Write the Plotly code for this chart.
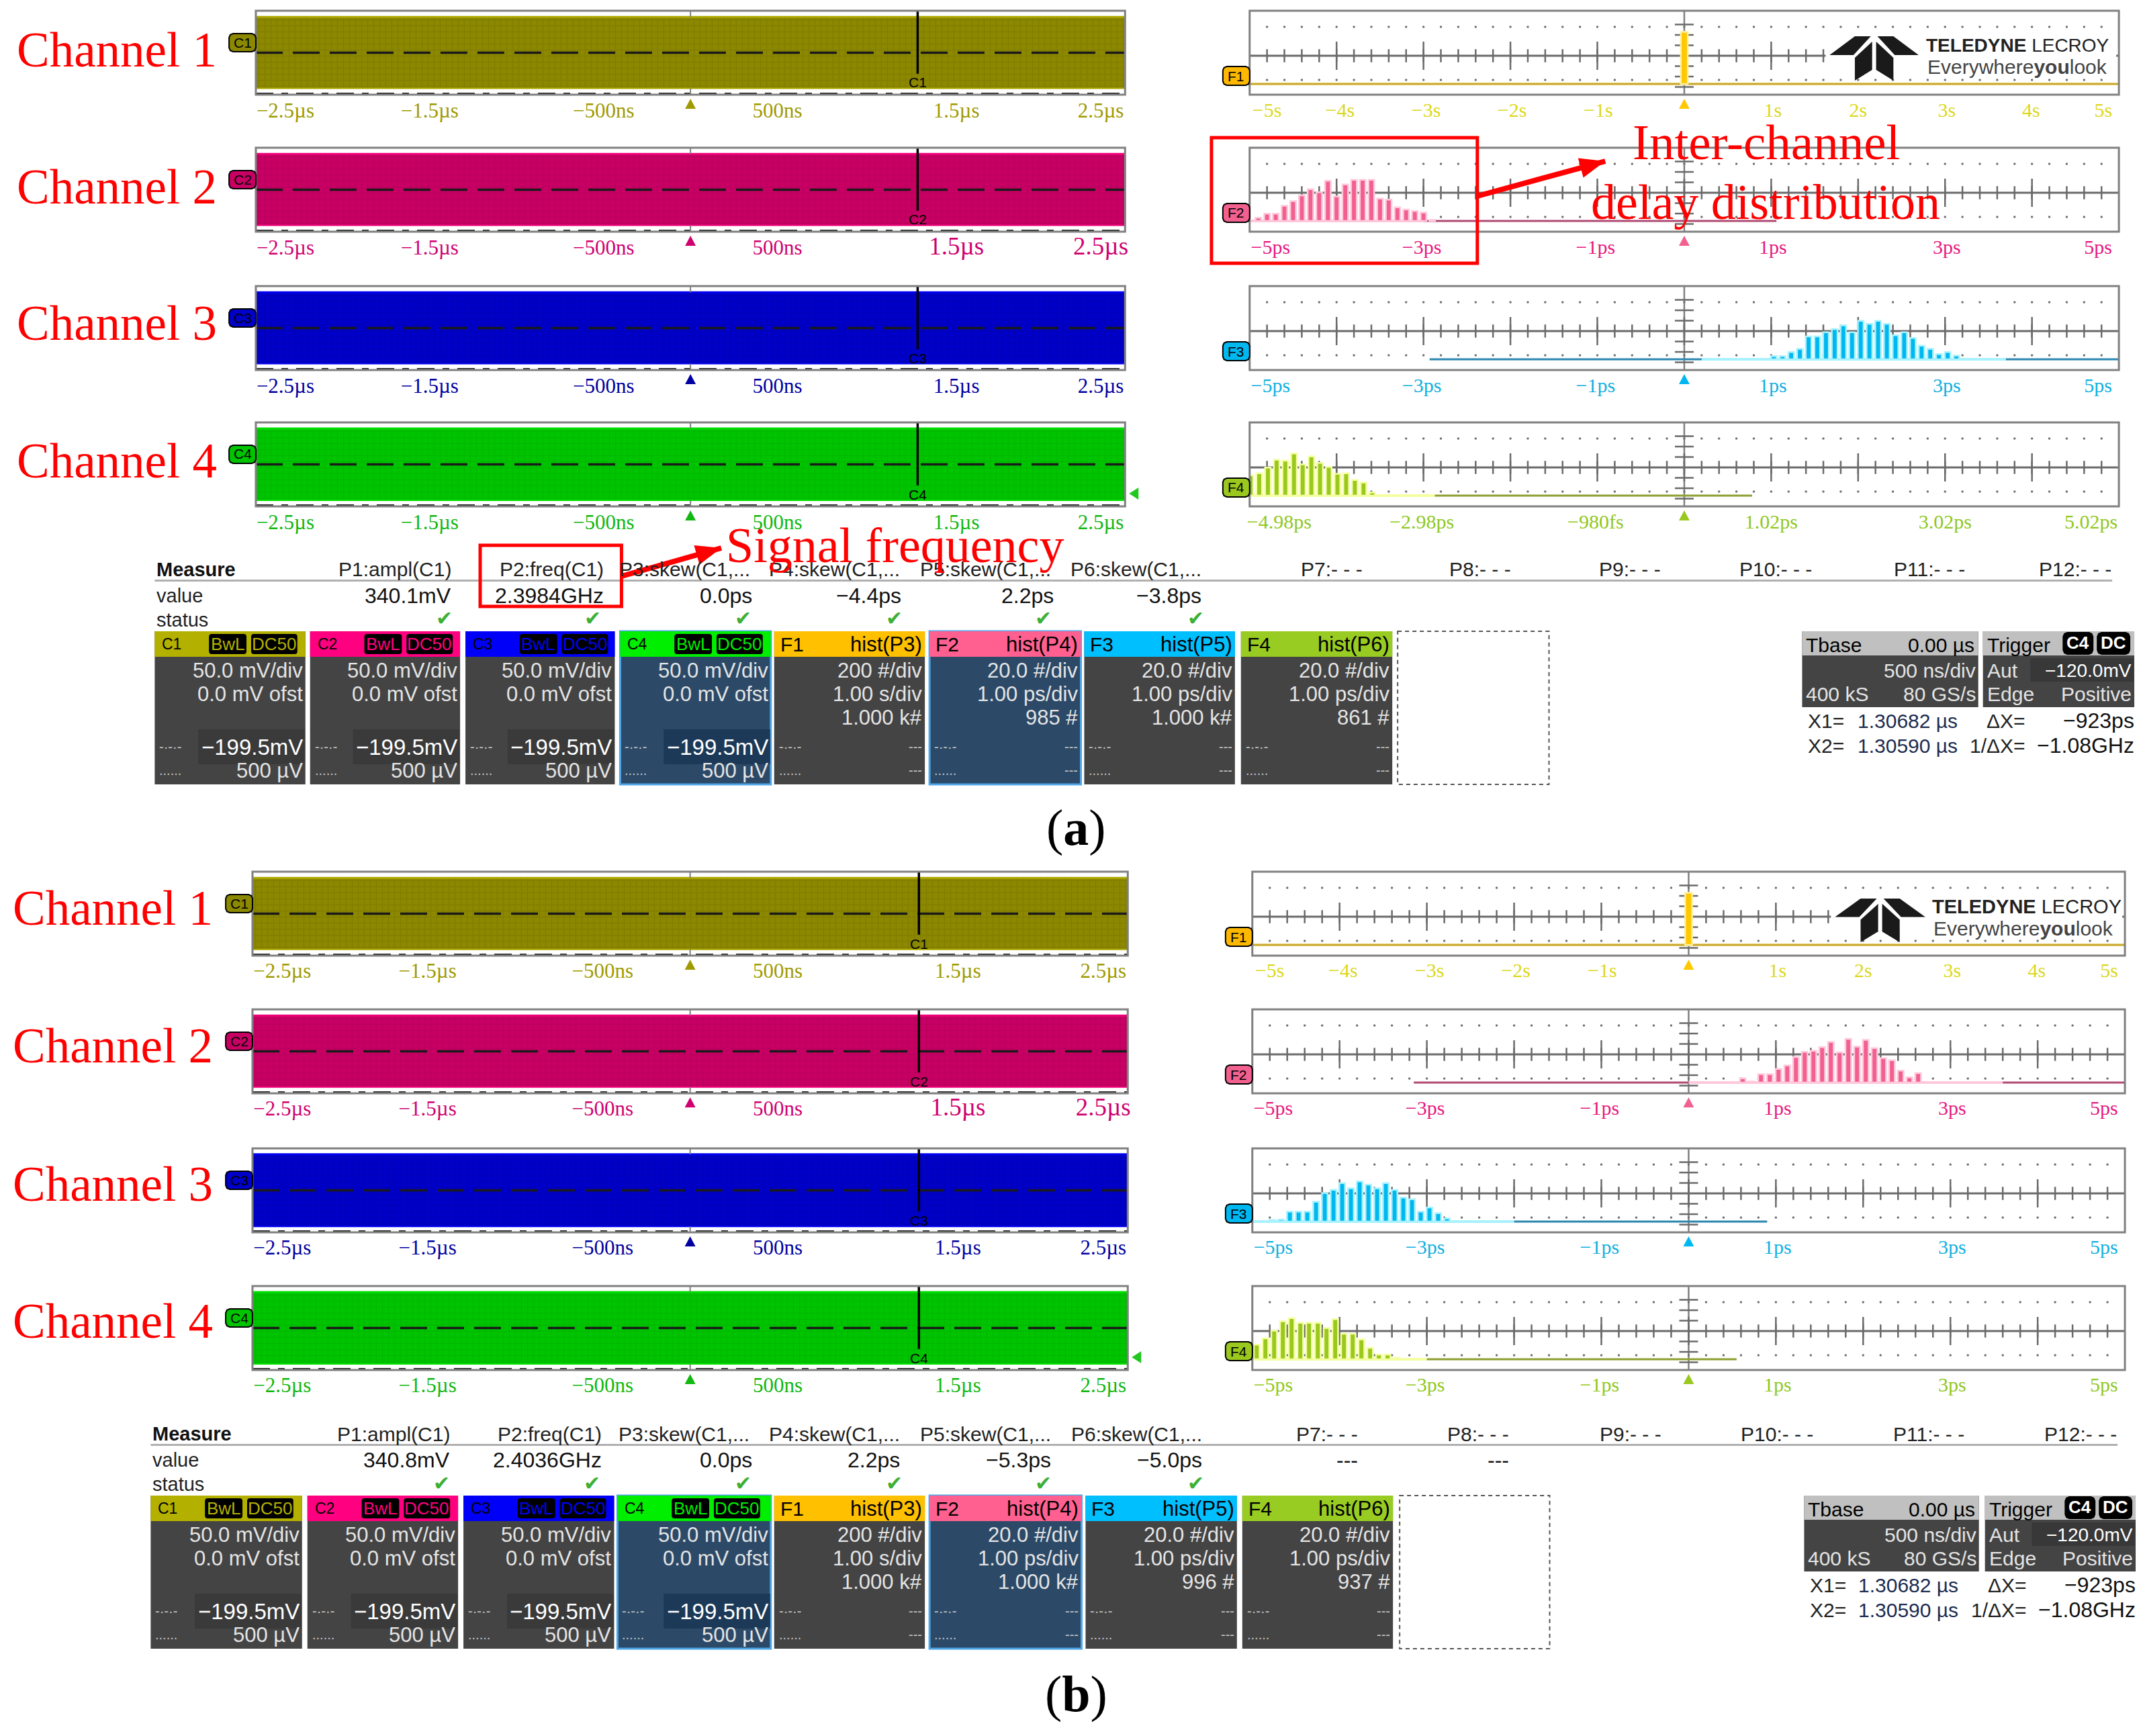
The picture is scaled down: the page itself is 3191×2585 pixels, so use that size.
import numpy as np
import plotly.graph_objects as go

W, H = 3191, 2585
PAGE_PAD = 8  # the html body keeps its default margin
SERIF = "Liberation Serif"
SANS = "Liberation Sans"

# ---- data ----
wave_names = ["C1", "C2", "C3", "C4"]
wave_colors = ["#8C8800", "#C80064", "#0000C8", "#00C400"]
wave_dark = ["#787400", "#B00058", "#0000AC", "#00AE00"]
wave_edge = ["#ACA800", "#F00078", "#0000F0", "#00E000"]
wave_label_colors = ["#A09A00", "#D00070", "#0000A0", "#10B810"]
wave_amp_a = [170.0, 170.0, 170.0, 171.0]
wave_amp_b = [170.4, 170.4, 172.0, 171.0]
wave_ticks = [-2.33, -1.5, -0.5, 0.5, 1.53, 2.36]
wave_ticktext = ["−2.5µs", "−1.5µs", "−500ns", "500ns", "1.5µs", "2.5µs"]
big = '<span style="font-size:37px">%s</span>'
wave_ticktext_c2 = ["−2.5µs", "−1.5µs", "−500ns", "500ns", big % "1.5µs", big % "2.5µs"]
cursor_x = 1.30682

f1_ticks = [-4.8, -3.96, -2.97, -1.98, -0.99, 1.02, 2.0, 3.02, 3.99, 4.82]
f1_ticktext = ["−5s", "−4s", "−3s", "−2s", "−1s", "1s", "2s", "3s", "4s", "5s"]
ps_ticks = [-4.76, -3.02, -1.02, 1.02, 3.02, 4.76]
ps_ticktext = ["−5ps", "−3ps", "−1ps", "1ps", "3ps", "5ps"]
shift_ticks = [-4.64, -3.0, -1.0, 1.02, 3.02, 4.7]
shift_ticktext = ["−4.98ps", "−2.98ps", "−980fs", "1.02ps", "3.02ps", "5.02ps"]

hist_names = ["F1", "F2", "F3", "F4"]
hist_colors = ["#FFC800", "#F2608F", "#00B8F0", "#9AC81E"]
hist_halo = ["#FFF0A0", "#FFC8DC", "#A8F2FF", "#F4FFA0"]
hist_base = ["#C8A838", "#B04A72", "#2A86AE", "#8E9E30"]
hist_text = ["#DCD820", "#E8187F", "#10B0E0", "#90C820"]

f1_x = [0.0]
f1_n = [1000]
a_f2_x = [-4.9, -4.8, -4.7, -4.6, -4.5, -4.4, -4.3, -4.2, -4.1, -4.0, -3.9, -3.8, -3.7, -3.6, -3.5, -3.4, -3.3, -3.2, -3.1, -3.0, -2.9]
a_f2_n = [6, 14, 14, 29, 38, 49, 61, 55, 77, 47, 70, 79, 79, 79, 43, 41, 26, 22, 19, 16, 2]
a_f3_x = [1.03, 1.13, 1.23, 1.33, 1.43, 1.53, 1.63, 1.73, 1.83, 1.93, 2.03, 2.13, 2.23, 2.33, 2.43, 2.53, 2.63, 2.73, 2.83, 2.93, 3.03, 3.13]
a_f3_n = [6, 6, 14, 20, 44, 44, 52, 58, 65, 52, 74, 68, 74, 68, 46, 52, 41, 26, 20, 10, 14, 7]
a_f4_x = [-4.97, -4.87, -4.77, -4.67, -4.57, -4.47, -4.37, -4.27, -4.17, -4.07, -3.97, -3.87, -3.77, -3.67, -3.57]
a_f4_n = [39, 43, 54, 69, 67, 81, 60, 75, 63, 55, 42, 43, 30, 25, 6]
b_f2_x = [0.62, 0.72, 0.83, 0.93, 1.03, 1.13, 1.23, 1.33, 1.43, 1.53, 1.63, 1.73, 1.83, 1.93, 2.03, 2.13, 2.23, 2.33, 2.43, 2.53, 2.63]
b_f2_n = [8, 2, 16, 16, 26, 33, 49, 59, 61, 68, 78, 58, 84, 69, 82, 66, 47, 43, 23, 10, 18]
b_f3_x = [-4.77, -4.67, -4.57, -4.47, -4.37, -4.27, -4.17, -4.07, -3.97, -3.87, -3.77, -3.67, -3.57, -3.47, -3.37, -3.27, -3.17, -3.07, -2.97, -2.87, -2.77]
b_f3_n = [3, 4, 19, 19, 19, 38, 55, 61, 74, 64, 77, 71, 64, 74, 61, 46, 43, 19, 27, 16, 6]
b_f4_x = [-4.95, -4.85, -4.75, -4.65, -4.55, -4.45, -4.35, -4.25, -4.15, -4.05, -3.95, -3.85, -3.75, -3.65, -3.55, -3.45, -3.35]
b_f4_n = [28, 40, 55, 73, 79, 70, 70, 70, 60, 77, 49, 49, 38, 22, 9, 9, 3]

# zero-count trace: pale where a few hits land, darker where it is empty
a_pale = [[-5, 5], [-5, -3.0], [0.2, 3.7], [-4.98, -2.85]]
a_dark = [[[-5, 5]], [[-3.0, 1.06]], [[-2.93, 0.2], [3.7, 5]], [[-2.85, 0.8]]]
b_pale = [[-5, 5], [0.0, 3.6], [-5, -2.0], [-5, -3.0]]
b_dark = [[[-5, 5]], [[-3.15, 0.0], [3.6, 5]], [[-2.0, 0.9]], [[-3.0, 0.55]]]

p_names = ["P1:ampl(C1)", "P2:freq(C1)", "P3:skew(C1,...", "P4:skew(C1,...", "P5:skew(C1,...", "P6:skew(C1,...",
           "P7:- - -", "P8:- - -", "P9:- - -", "P10:- - -", "P11:- - -", "P12:- - -"]
a_values = ["340.1mV", "2.3984GHz", "0.0ps", "−4.4ps", "2.2ps", "−3.8ps"]
b_values = ["340.8mV", "2.4036GHz", "0.0ps", "2.2ps", "−5.3ps", "−5.0ps", "---", "---"]

box_colors = ["#B4B000", "#FF0080", "#0000F8", "#00EE00", "#FFC000", "#FF6090", "#00BFFF", "#99CC22"]
f_hist = ["hist(P3)", "hist(P4)", "hist(P5)", "hist(P6)"]
f_per_div = ["200 #/div", "20.0 #/div", "20.0 #/div", "20.0 #/div"]
f_time_div = ["1.00 s/div", "1.00 ps/div", "1.00 ps/div", "1.00 ps/div"]
a_f_count = ["1.000 k#", "985 #", "1.000 k#", "861 #"]
b_f_count = ["1.000 k#", "1.000 k#", "996 #", "937 #"]

shapes, notes = [], []
fig = go.Figure()
axis_no = 0


def fx(px):
    return (px - PAGE_PAD) / W


def fy(px):
    return 1 - (px - PAGE_PAD) / H


def text(x, y, s, size, color="#000000", anchor="left", family=SANS):
    notes.append(dict(x=fx(x), y=fy(y), xref="paper", yref="paper", text=s, showarrow=False,
                      xanchor=anchor, yanchor="middle", borderpad=0,
                      font=dict(size=size, color=color, family=family)))


def rect(x0, y0, x1, y1, fill=None, line=None, lw=0, dash=None):
    shapes.append(dict(type="rect", xref="paper", yref="paper", x0=fx(x0), x1=fx(x1), y0=fy(y0), y1=fy(y1),
                       fillcolor=fill or "rgba(0,0,0,0)",
                       line=dict(color=line or "rgba(0,0,0,0)", width=lw, dash=dash or "solid")))


def poly(points, fill):
    d = "M " + " L ".join("%.5f %.5f" % (fx(a), fy(b)) for a, b in points) + " Z"
    shapes.append(dict(type="path", xref="paper", yref="paper", path=d, fillcolor=fill, line=dict(width=0)))


def badge(x0, y0, x1, y1, fill, line="#000000", r=6):
    pts = []
    for cx, cy, a0 in [(x1 - r, y0 + r, -90), (x1 - r, y1 - r, 0), (x0 + r, y1 - r, 90), (x0 + r, y0 + r, 180)]:
        for a in (a0, a0 + 45, a0 + 90):
            pts.append((cx + r * np.cos(np.radians(a)), cy + r * np.sin(np.radians(a))))
    d = "M " + " L ".join("%.5f %.5f" % (fx(a), fy(b)) for a, b in pts) + " Z"
    shapes.append(dict(type="path", xref="paper", yref="paper", path=d, fillcolor=fill,
                       line=dict(color=line, width=2)))


def new_axes(left, right, top, bottom, xr, yr, tickvals, ticktext, tcolor, standoff, tsize=31):
    global axis_no
    axis_no += 1
    n = "" if axis_no == 1 else str(axis_no)
    fig.layout["xaxis" + n] = dict(domain=[fx(left), fx(right)], range=xr, anchor="y" + n, tickmode="array",
                                   tickvals=tickvals, ticktext=ticktext, ticks="", ticklabelstandoff=standoff,
                                   showgrid=False, zeroline=False, showline=False,
                                   tickfont=dict(family=SERIF, size=tsize, color=tcolor))
    fig.layout["yaxis" + n] = dict(domain=[fy(bottom), fy(top)], range=yr, anchor="x" + n, showticklabels=False,
                                   ticks="", showgrid=False, zeroline=False, showline=False)
    rect(left, top, right, bottom, None, "#808080", 3)
    return "x" + n, "y" + n


def line(xa, ya, x, y, color, width, dash="solid", zorder=1):
    fig.add_trace(go.Scatter(x=x, y=y, xaxis=xa, yaxis=ya, mode="lines", hoverinfo="skip", zorder=zorder,
                             line=dict(color=color, width=width, dash=dash)))


def wave_panel(i, left, right, top, amp, standoff):
    bottom = top + 125
    labels = wave_ticktext_c2 if i == 1 else wave_ticktext
    xa, ya = new_axes(left, right, top, bottom, [-2.5, 2.5], [-200, 200], wave_ticks, labels,
                      wave_label_colors[i], standoff)
    # the trace is so dense it reads as a solid band between the two envelopes
    fig.add_trace(go.Bar(x=[0], y=[2 * amp], base=[-amp], width=[5], xaxis=xa, yaxis=ya, hoverinfo="skip",
                         marker=dict(color=wave_colors[i], line=dict(width=0),
                                     pattern=dict(shape="+", fgcolor=wave_dark[i], bgcolor=wave_colors[i],
                                                  size=9, solidity=0.3))))
    line(xa, ya, [-2.5, 2.5], [amp, amp], wave_edge[i], 3)
    line(xa, ya, [-2.5, 2.5], [-amp, -amp], wave_edge[i], 2)
    line(xa, ya, [-2.5, 2.5], [0, 0], "#1A1A1A", 3.5, "40px,15px")
    line(xa, ya, [-2.5, 2.5], [-196, -196], "#222222", 3.5, "26px,12px,10px,12px")
    line(xa, ya, [0, 0], [amp, 200], "#808080", 2)
    line(xa, ya, [0, 0], [-200, -amp], "#808080", 2)
    line(xa, ya, [cursor_x, cursor_x], [200, -100], "#000000", 3.5, zorder=2)
    cx = left + (cursor_x + 2.5) / 5 * (right - left)
    text(cx, top + 107, wave_names[i], 21, "#000000", "center")
    badge(left - 40, top + 34, left, top + 61, wave_colors[i])
    text(left - 20, top + 47, wave_names[i], 21, "#000000", "center")
    mid = (left + right) / 2
    poly([(mid - 8, bottom + 21), (mid + 8, bottom + 21), (mid, bottom + 6)], wave_label_colors[i])
    if i == 3:
        poly([(right + 20, top + 97), (right + 20, top + 115), (right + 6, top + 106)], "#20C820")


def hist_panel(i, left, right, top, x, n, pale, dark, standoff, shifted=False):
    bottom = top + 125
    unit = 200 if i == 0 else 20
    if i == 0:
        xr, vals, labels = [-5, 5], f1_ticks, f1_ticktext
    elif shifted:
        xr, vals, labels = [-4.98, 5.02], shift_ticks, shift_ticktext
    else:
        xr, vals, labels = [-5, 5], ps_ticks, ps_ticktext
    yr = [-16 / 15.5 * unit, 109 / 15.5 * unit]
    xa, ya = new_axes(left, right, top, bottom, xr, yr, vals, labels, hist_text[i], standoff, 30)
    y_mid = 42 / 15.5 * unit
    y_up = 85 / 15.5 * unit
    y_low = 6 / 15.5 * unit
    grey = "#6A6A6A"
    line(xa, ya, xr, [y_mid, y_mid], grey, 3)
    line(xa, ya, [xr[0] + 5, xr[0] + 5], yr, "#808080", 2.5)
    minor = np.round(np.arange(xr[0] + 0.2, xr[1], 0.2), 2)
    major = np.round(np.arange(xr[0] + 1, xr[1], 1.0), 2)
    fig.add_trace(go.Scatter(x=minor, y=[y_mid] * len(minor), xaxis=xa, yaxis=ya, mode="markers", hoverinfo="skip",
                             zorder=1, marker=dict(symbol="line-ns-open", size=14, color=grey, line=dict(color=grey, width=2.5))))
    fig.add_trace(go.Scatter(x=major, y=[y_mid] * len(major), xaxis=xa, yaxis=ya, mode="markers", hoverinfo="skip",
                             zorder=1, marker=dict(symbol="line-ns-open", size=30, color=grey, line=dict(color=grey, width=2.5))))
    v = y_mid + unit * np.array([-3, -2, -1, 1, 2, 3])
    fig.add_trace(go.Scatter(x=[xr[0] + 5] * 6, y=v, xaxis=xa, yaxis=ya, mode="markers", hoverinfo="skip",
                             zorder=1, marker=dict(symbol="line-ew-open", size=20, color=grey, line=dict(color=grey, width=2.5))))
    for row in (y_up, y_low):
        fig.add_trace(go.Scatter(x=minor, y=[row] * len(minor), xaxis=xa, yaxis=ya, mode="markers", hoverinfo="skip",
                                 zorder=1, marker=dict(symbol="circle", size=3.5, color="#707070")))
    line(xa, ya, pale, [0, 0], hist_halo[i], 4, zorder=1)
    for span in dark:
        line(xa, ya, span, [0, 0], hist_base[i], 3, zorder=1)
    fig.add_trace(go.Bar(x=x, y=n, width=[0.08 if i == 0 else 0.065] * len(x), xaxis=xa, yaxis=ya, hoverinfo="skip",
                         zorder=2, marker=dict(color=hist_colors[i], line=dict(color=hist_halo[i], width=2.5))))
    badge(left - 40, top + 83, left, top + 111, hist_colors[i] if i else "#FFB800")
    text(left - 20, top + 97, hist_names[i], 21, "#000000", "center")
    mid = (left + right) / 2
    poly([(mid - 8, bottom + 21), (mid + 8, bottom + 21), (mid, bottom + 6)], hist_colors[i])


def logo(x0, y0, x1, y1, ty0, ty1, tx, size0, size1):
    sx = (x1 - x0) / 134
    sy = (y1 - y0) / 66
    rect(x0 - 6, y0 - 6, tx + 285, y1 - 8, "#FFFFFF")
    for pts in ([(0, 28), (38, 0), (62, 0), (36, 28)], [(134, 28), (96, 0), (72, 0), (98, 28)],
                [(38, 66), (38, 32), (64, 8), (64, 50)], [(96, 66), (96, 32), (70, 8), (70, 50)]):
        poly([(x0 + a * sx, y0 + b * sy) for a, b in pts], "#1A1A1A")
    text(tx, ty0, "<b>TELEDYNE</b> LECROY", size0, "#222222")
    text(tx + 2, ty1, "Everywhere<b>you</b>look", size1, "#444444")


def info_box(i, x0, x1, top, f_count):
    bot, head = top + 228, top + 38
    active = i in (3, 5)
    body = "#2C4A68" if active else "#444444"
    rect(x0, top, x1, bot, body, "#4DA6E8" if active else None, 3 if active else 0)
    rect(x0, top, x1, head, box_colors[i])
    rows = [top + 58, top + 93, top + 128, top + 172, top + 207]
    right = x1 - 3
    if i < 4:
        text(x0 + 10, top + 19, "C%d" % (i + 1), 23, "#000000")
        badge(x0 + 80, top + 3, x0 + 138, top + 35, "#000000", box_colors[i], 4)
        badge(x0 + 143, top + 3, x0 + 214, top + 35, "#000000", box_colors[i], 4)
        text(x0 + 109, top + 19, "BwL", 26, box_colors[i], "center")
        text(x0 + 178, top + 19, "DC50", 26, box_colors[i], "center")
        text(right, rows[0], "50.0 mV/div", 31, "#E4E4E4", "right")
        text(right, rows[1], "0.0 mV ofst", 31, "#E4E4E4", "right")
        rect(x1 - 160, rows[3] - 26, x1 - 1, rows[3] + 26, "#1C3A58" if active else "#3A3A3A")
        text(right, rows[3], "−199.5mV", 33, "#FFFFFF", "right")
        text(right, rows[4], "500 µV", 31, "#E4E4E4", "right")
    else:
        k = i - 4
        text(x0 + 8, top + 19, hist_names[k], 30, "#000000")
        text(right, top + 19, f_hist[k], 31, "#000000", "right")
        text(right, rows[0], f_per_div[k], 31, "#E4E4E4", "right")
        text(right, rows[1], f_time_div[k], 31, "#E4E4E4", "right")
        text(right, rows[2], f_count[k], 31, "#E4E4E4", "right")
        text(right, rows[3], "---", 20, "#C8C8C8", "right")
        text(right, rows[4], "---", 20, "#C8C8C8", "right")
    text(x0 + 6, rows[3], "-·-·-", 20, "#C8C8C8")
    text(x0 + 6, rows[4], "......", 20, "#C8C8C8")


def screen(y_top, left_x, box_x, head_right, val_right, check_x, values, f_count, tb_x, line_right):
    text(left_x + 2, y_top - 92, "<b>Measure</b>", 29, "#111111")
    text(left_x + 2, y_top - 53, "value", 29, "#222222")
    text(left_x + 2, y_top - 17, "status", 29, "#222222")
    rect(left_x, y_top - 77, line_right, y_top - 74, "#B0B0B0")
    for name, xr in zip(p_names, head_right):
        text(xr, y_top - 92, name, 30, "#222222", "right")
    for val, xr in zip(values, val_right):
        text(xr, y_top - 53, val, 32, "#111111", "right")
    for xc in check_x:
        text(xc, y_top - 19, "✔", 30, "#3CB034", "center", "DejaVu Sans")
    for i, (a, b) in enumerate(box_x[:8]):
        info_box(i, a, b, y_top, f_count)
    a, b = box_x[8]
    rect(a, y_top, b, y_top + 228, None, "#555555", 2, "6px,5px")
    # timebase and trigger read-outs
    t0, t1, g0, g1 = tb_x
    rect(t0, y_top, t1, y_top + 113, "#444444")
    rect(t0, y_top, t1, y_top + 36, "#C0C0C0")
    rect(g0, y_top, g1, y_top + 113, "#444444")
    rect(g0, y_top, g1, y_top + 36, "#C0C0C0")
    text(t0 + 5, y_top + 20, "Tbase", 30)
    text(t1 - 5, y_top + 20, "0.00 µs", 30, "#000000", "right")
    text(t1 - 3, y_top + 58, "500 ns/div", 30, "#E4E4E4", "right")
    text(t0 + 5, y_top + 93, "400 kS", 30, "#E4E4E4")
    text(t1 - 3, y_top + 93, "80 GS/s", 30, "#E4E4E4", "right")
    text(g0 + 5, y_top + 20, "Trigger", 30)
    badge(g0 + 120, y_top + 2, g0 + 164, y_top + 34, "#000000", "#000000", 6)
    badge(g0 + 171, y_top + 2, g0 + 219, y_top + 34, "#000000", "#000000", 6)
    text(g0 + 142, y_top + 17, "<b>C4</b>", 26, "#FFFFFF", "center")
    text(g0 + 195, y_top + 17, "<b>DC</b>", 26, "#FFFFFF", "center")
    text(g0 + 5, y_top + 58, "Aut", 30, "#E4E4E4")
    rect(g1 - 155, y_top + 40, g1 - 1, y_top + 75, "#383838")
    text(g1 - 3, y_top + 58, "−120.0mV", 28, "#FFFFFF", "right")
    text(g0 + 5, y_top + 93, "Edge", 30, "#E4E4E4")
    text(g1 - 3, y_top + 93, "Positive", 30, "#E4E4E4", "right")
    for dy, lab, val, dl, dv in [(133, "X1=", "1.30682 µs", "ΔX=", "−923ps"), (170, "X2=", "1.30590 µs", "1/ΔX=", "−1.08GHz")]:
        text(t0 + 8, y_top + dy, lab, 30, "#222222")
        text(t1 - 30, y_top + dy, val, 30, "#1C2C50", "right")
        text(g0 + 64, y_top + dy, dl, 30, "#222222", "right")
        text(g1 + 1, y_top + dy, dv, 32, "#111111", "right")


def arrow(x0, y0, x1, y1, head=38, half=15, width=8):
    shapes.append(dict(type="line", xref="paper", yref="paper", x0=fx(x0), y0=fy(y0), x1=fx(x1), y1=fy(y1),
                       line=dict(color="#FF0000", width=width)))
    d = np.array([x1 - x0, y1 - y0], dtype=float)
    d /= np.hypot(*d)
    n = np.array([-d[1], d[0]])
    tip = np.array([x1, y1], dtype=float)
    base = tip - d * head
    poly([tuple(tip), tuple(base + n * half), tuple(base - n * half)], "#FF0000")


# ---- panel (a) ----
a_tops = [16, 220, 426, 629]
for i, t in enumerate(a_tops):
    wave_panel(i, 378, 1676, t, wave_amp_a[i], 2)
for i, (t, x, n) in enumerate(zip(a_tops, [f1_x, a_f2_x, a_f3_x, a_f4_x], [f1_n, a_f2_n, a_f3_n, a_f4_n])):
    hist_panel(i, 1862, 3160, t, x, n, a_pale[i], a_dark[i], 2, shifted=(i == 3))
logo(2728, 54, 2861, 120, 68, 99, 2871, 28, 30)
for name, y in zip(["Channel 1", "Channel 2", "Channel 3", "Channel 4"], [74, 278, 482, 686]):
    text(20, y, name, 73, "#FF0000", "left", SERIF)
screen(940, 227,
       [(227, 452), (459, 683), (691, 914), (922, 1147), (1152, 1377), (1384, 1610), (1615, 1840), (1849, 2075), (2083, 2309)],
       [671, 899, 1117, 1341, 1566, 1791, 2032, 2253, 2477, 2703, 2931, 3150],
       [671, 899, 1120, 1343, 1570, 1791], [659, 881, 1106, 1331, 1554, 1782],
       a_values, a_f_count, (2687, 2950, 2957, 3183), 3150)
text(1603, 1232, "(<b>a</b>)", 76, "#000000", "center", SERIF)

# ---- panel (b) ----
b_tops = [1298, 1503, 1710, 1915]
for i, t in enumerate(b_tops):
    wave_panel(i, 373, 1680, t, wave_amp_b[i], 1)
for i, (t, x, n) in enumerate(zip(b_tops, [f1_x, b_f2_x, b_f3_x, b_f4_x], [f1_n, b_f2_n, b_f3_n, b_f4_n])):
    hist_panel(i, 1866, 3169, t, x, n, b_pale[i], b_dark[i], 1)
logo(2736, 1338, 2871, 1403, 1350, 1382, 2880, 29, 30)
for name, y in zip(["Channel 1", "Channel 2", "Channel 3", "Channel 4"], [1353, 1557, 1763, 1967]):
    text(14, y, name, 73, "#FF0000", "left", SERIF)
screen(2227, 221,
       [(221, 447), (455, 680), (688, 913), (918, 1147), (1152, 1377), (1384, 1611), (1617, 1843), (1851, 2076), (2086, 2310)],
       [669, 896, 1116, 1341, 1566, 1792, 2025, 2250, 2478, 2705, 2930, 3158],
       [669, 896, 1120, 1341, 1566, 1792, 2025, 2250], [655, 880, 1106, 1331, 1554, 1782],
       b_values, b_f_count, (2690, 2951, 2960, 3185), 3158)
text(1603, 2522, "(<b>b</b>)", 76, "#000000", "center", SERIF)

# ---- red call-outs ----
rect(1805, 205, 2202, 392, None, "#FF0000", 5)
rect(713, 812, 924, 903, None, "#FF0000", 5)
arrow(2202, 292, 2393, 240)
arrow(924, 858, 1073, 816)
text(2633, 212, "Inter-channel", 75, "#FF0000", "center", SERIF)
text(2632, 301, "delay distribution", 74, "#FF0000", "center", SERIF)
text(1332, 812, "Signal frequency", 74, "#FF0000", "center", SERIF)

fig.update_layout(width=W, height=H, margin=dict(l=0, r=0, t=0, b=0), showlegend=False, barmode="overlay",
                  paper_bgcolor="#FFFFFF", plot_bgcolor="rgba(0,0,0,0)", shapes=shapes, annotations=notes)
fig.write_html("out.html")
